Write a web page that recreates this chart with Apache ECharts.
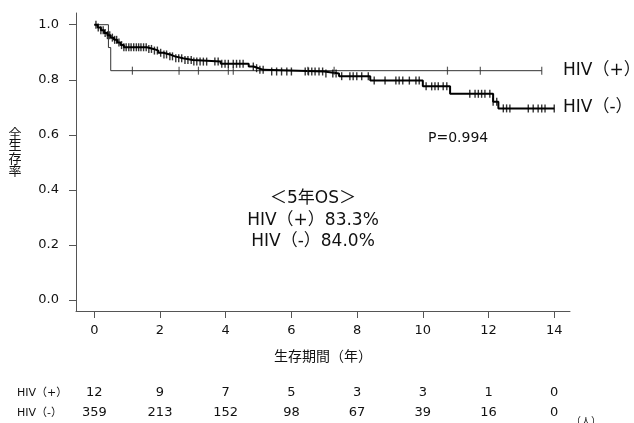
<!DOCTYPE html>
<html>
<head>
<meta charset="utf-8">
<script src="https://cdn.jsdelivr.net/npm/echarts@6/dist/echarts.min.js"></script>
<style>html,body{margin:0;padding:0;background:#fff}#c{width:634px;height:423px}</style>
</head>
<body>
<div id="c"></div>
<script>
// ---- data ----
const xTicks = [0, 2, 4, 6, 8, 10, 12, 14];
const yTicks = [0, 0.2, 0.4, 0.6, 0.8, 1.0];

const posTimes = [0, 0.43, 0.5, 13.62];
const posSurv  = [1.0, 0.917, 0.833, 0.833];
const posCensor = [1.16, 2.58, 3.17, 4.08, 4.23, 6.5, 7.3, 10.75, 11.75, 13.62];

const negTimes = [0, 0.1, 0.2, 0.3, 0.4, 0.5, 0.6, 0.7, 0.8, 0.9, 1.6, 1.8, 1.95, 2.1, 2.3, 2.45, 2.7, 3.0, 3.85, 4.7, 4.85, 5.0, 5.15, 7.0, 7.45, 8.4, 10.0, 10.83, 12.14, 12.3, 14.0];
const negSurv  = [1.0, 0.99, 0.98, 0.97, 0.962, 0.953, 0.945, 0.935, 0.926, 0.918, 0.912, 0.906, 0.898, 0.892, 0.885, 0.878, 0.872, 0.866, 0.858, 0.848, 0.842, 0.836, 0.830, 0.823, 0.813, 0.797, 0.776, 0.749, 0.72, 0.696, 0.696];
const negCensor = [0.05,0.12,0.2,0.27,0.33,0.4,0.47,0.55,0.62,0.68,0.75,0.83,0.9,0.97,1.05,1.12,1.2,1.28,1.35,1.42,1.5,1.58,1.66,1.74,1.83,1.92,2.02,2.12,2.2,2.3,2.38,2.48,2.57,2.66,2.76,2.85,2.95,3.03,
  3.12,3.22,3.32,3.42,3.67,3.77,3.88,3.98,4.08,4.23,4.33,4.43,4.53,4.84,4.94,5.04,5.14,5.4,5.55,5.7,5.86,6.0,
  6.42,6.52,6.62,6.72,6.84,6.95,7.05,7.26,7.36,7.53,7.78,7.88,7.99,8.14,8.34,8.52,8.85,9.18,9.28,9.39,9.59,9.79,9.89,
  10.1,10.27,10.37,10.47,10.62,10.73,11.43,11.59,11.69,11.79,11.89,12.04,12.14,12.25,12.45,12.55,12.65,13.21,13.36,13.51,13.62,13.72,14.0];

const riskPos = [12, 9, 7, 5, 3, 3, 1, 0];
const riskNeg = [359, 213, 152, 98, 67, 39, 16, 0];

const legendPos = 'HIV（+）';
const legendNeg = 'HIV（-）';
const pValue = 'P=0.994';
const osTitle = '＜5年OS＞';
const osPos = 'HIV（+）83.3%';
const osNeg = 'HIV（-）84.0%';
const yTitle = '全生存率';

// ---- helpers ----
function pairs(ts, vs){ return ts.map((t,i)=>[t, vs[i]]); }
function survAt(ts, vs, t){ let v = vs[0]; for (let i=0;i<ts.length;i++){ if (ts[i] <= t) v = vs[i]; } return v; }
function censorPts(ct, ts, vs){ return ct.map(t => [t, survAt(ts, vs, t)]); }

const FONT = '"DejaVu Sans", "Noto Sans CJK JP", sans-serif';
const CJK = '"Noto Sans CJK JP", sans-serif';
const chart = echarts.init(document.getElementById('c'), null, {renderer:'canvas'});

const axisCol = '#555';
chart.setOption({
  animation: false,
  backgroundColor: '#fff',
  grid: { left: 76, right: 64, top: 13, bottom: 112, containLabel: false },
  xAxis: {
    type: 'value', min: -0.557, max: 14.48,
    axisLine: { show: true, onZero: false, lineStyle: { color: axisCol, width: 1 } },
    axisTick: { show: true, length: 7, customValues: xTicks, lineStyle: { color: axisCol } },
    axisLabel: { customValues: xTicks, margin: 13, fontSize: 13, color: '#111', fontFamily: FONT },
    splitLine: { show: false },
    name: '生存期間（年）', nameLocation: 'middle', nameGap: 38,
    nameTextStyle: { fontSize: 14, color: '#111', fontFamily: CJK }
  },
  yAxis: {
    type: 'value', min: -0.04, max: 1.0425,
    axisLine: { show: true, onZero: false, lineStyle: { color: axisCol, width: 1 } },
    axisTick: { show: true, length: 7, customValues: yTicks, lineStyle: { color: axisCol } },
    axisLabel: { customValues: yTicks, margin: 17, fontSize: 13, color: '#111', fontFamily: FONT,
      formatter: v => v.toFixed(1) },
    splitLine: { show: false }
  },
  series: [
    { type: 'line', step: 'end', data: pairs(posTimes, posSurv), symbol: 'none',
      lineStyle: { color: '#333', width: 1 }, z: 3 },
    { type: 'line', step: 'end', data: pairs(negTimes, negSurv), symbol: 'none',
      lineStyle: { color: '#000', width: 2 }, z: 4 },
    { type: 'scatter', data: censorPts(posCensor, posTimes, posSurv), symbol: 'rect',
      symbolSize: [1.2, 8], itemStyle: { color: '#333' }, z: 5 },
    { type: 'scatter', data: censorPts(negCensor, negTimes, negSurv), symbol: 'rect',
      symbolSize: [1.4, 8], itemStyle: { color: '#000' }, z: 6 }
  ]
});

const px = t => chart.convertToPixel({ xAxisIndex: 0 }, t);
const txt = (text, x, y, size, align, family) => ({
  type: 'text', silent: true,
  style: { text, x, y, fill: '#111', font: size + 'px ' + (family || FONT), align: align || 'left', verticalAlign: 'middle' }
});

const g = [];
g.push(txt(legendPos, 563, 71, 17));
g.push(txt(legendNeg, 563, 108, 17));
g.push(txt(pValue, 428, 138, 14));
g.push(txt(osTitle, 313, 199, 17, 'center'));
g.push(txt(osPos, 313, 221, 17, 'center'));
g.push(txt(osNeg, 313, 242, 17, 'center'));
Array.from(yTitle).forEach((ch, i) => g.push(txt(ch, 15, 133 + i * 12.5, 13, 'center', CJK)));
g.push(txt('HIV（+）', 17, 393, 11));
g.push(txt('HIV（-）', 17, 413, 11));
xTicks.forEach((t, i) => {
  g.push(txt(String(riskPos[i]), px(t), 393, 13, 'center'));
  g.push(txt(String(riskNeg[i]), px(t), 413, 13, 'center'));
});
g.push(txt('（人）', 586, 421, 10, 'center', CJK));
chart.setOption({ graphic: g });
</script>
</body>
</html>
